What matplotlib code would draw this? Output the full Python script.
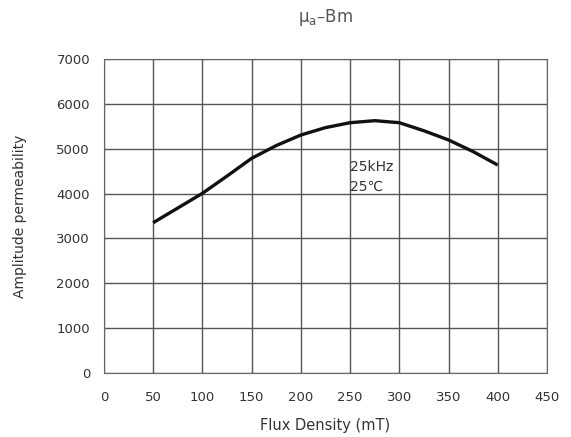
import numpy as np
import matplotlib.pyplot as plt

plt.rcParams['font.family'] = ['DejaVu Sans']

# amplitude permeability vs flux density at 25 kHz, 25 C
flux = [50, 100, 125, 150, 175, 200, 225, 250, 275, 300, 325, 350, 375, 400]
mu_a = [3350, 4005, 4390, 4785, 5070, 5305, 5470, 5580, 5625, 5580, 5400, 5195, 4935, 4635]

x_ticks = np.arange(0, 451, 50)
y_ticks = np.arange(0, 7001, 1000)

fig = plt.figure(figsize=(5.71, 4.37), dpi=100)
ax = fig.add_axes([0.182, 0.1465, 0.776, 0.7185])

ax.plot(flux, mu_a, color='#111111', lw=2.4, solid_capstyle='butt',
        solid_joinstyle='round')

ax.set_xlim(0, 450)
ax.set_ylim(0, 7000)
ax.set_xticks(x_ticks)
ax.set_yticks(y_ticks)
ax.grid(True, color='#555555', lw=1.0)
ax.tick_params(length=0, labelsize=9.5, colors='#333333')
ax.tick_params(axis='x', pad=13)
ax.tick_params(axis='y', pad=10)
for s in ax.spines.values():
    s.set_color('#666666')

ax.text(250, 4590, '25kHz', fontsize=10, color='#333333', va='center')
ax.text(250, 4150, '25\u2103', fontsize=10, color='#333333', va='center',
        family=['DejaVu Sans', 'Noto Sans CJK SC'])

ax.set_xlabel('Flux Density (mT)', fontsize=10.5, color='#333333', va='center')
ax.xaxis.set_label_coords(0.5, -0.166)
ax.set_ylabel('Amplitude permeability', fontsize=10, color='#333333', va='center')
ax.yaxis.set_label_coords(-0.19, 0.5)
fig.text(ax.get_position().x0 + ax.get_position().width / 2, 0.959,
         '$\\mathregular{\\mu_a}$\u2013Bm', fontsize=12, color='#555555',
         ha='center', va='center')

fig.savefig('out.png', dpi=100)
